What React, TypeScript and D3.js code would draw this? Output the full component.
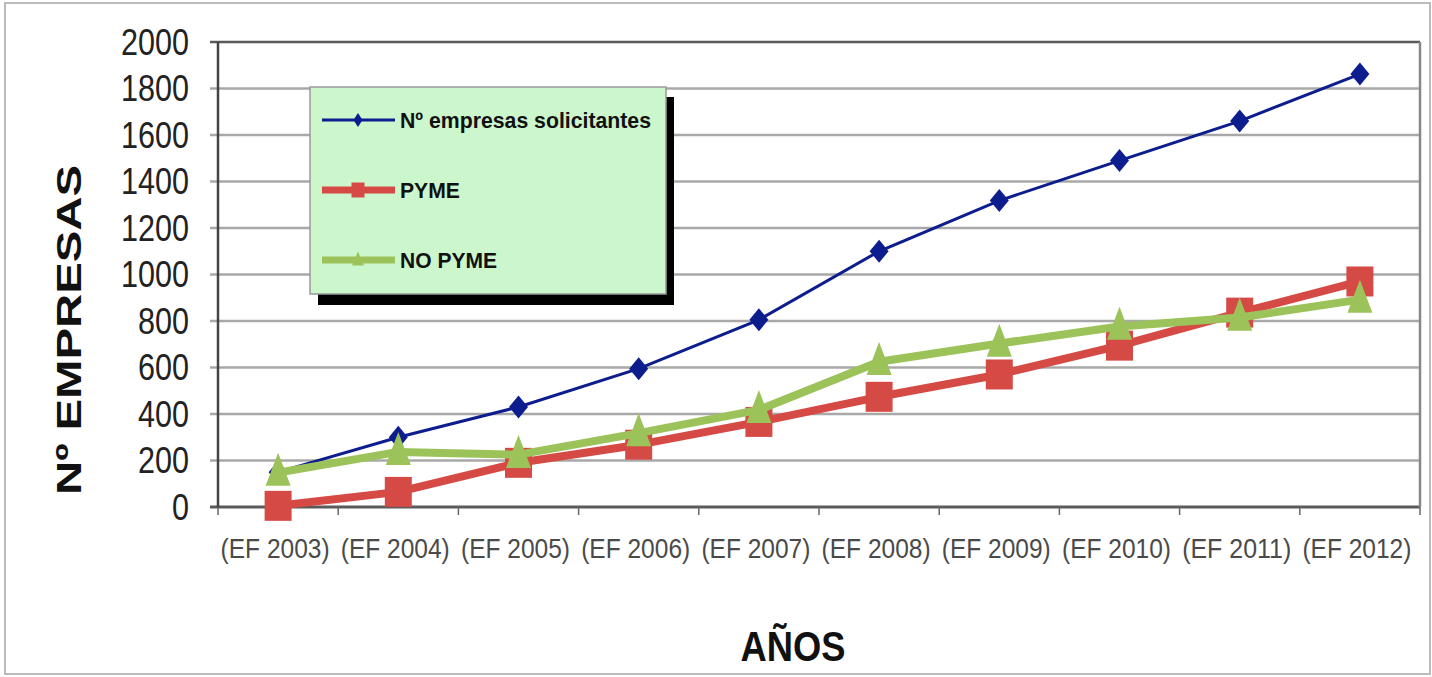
import * as d3 from "d3";

const years = ["(EF 2003)", "(EF 2004)", "(EF 2005)", "(EF 2006)", "(EF 2007)", "(EF 2008)", "(EF 2009)", "(EF 2010)", "(EF 2011)", "(EF 2012)"];
const solicitantes = [150, 300, 430, 595, 805, 1100, 1318, 1490, 1660, 1862];
const pyme = [5, 65, 190, 268, 366, 474, 570, 694, 836, 970];
const noPyme = [148, 237, 225, 318, 418, 625, 703, 776, 815, 892];
const yTicks = [0, 200, 400, 600, 800, 1000, 1200, 1400, 1600, 1800, 2000];
const legendLabels = ["Nº empresas solicitantes", "PYME", "NO PYME"];

const W = 1432;
const H = 677;
const left = 218;
const right = 1420;
const top = 42;
const bottom = 507;

const font = "'Liberation Sans', Arial, sans-serif";

const App = () => {
    const x = d3.scaleBand().domain(years).range([left, right]);
    const y = d3.scaleLinear().domain([0, 2000]).range([bottom, top]);
    const cx = (i) => x(years[i]) + x.bandwidth() / 2;

    const line = d3
        .line<number>()
        .x((_, i) => cx(i))
        .y((d) => y(d));

    const diamond = (w, h) => `M0,${-h / 2}L${w / 2},0L0,${h / 2}L${-w / 2},0Z`;
    const rect = (w, h) => `M${-w / 2},${-h / 2}h${w}v${h}h${-w}Z`;
    const tri = (w, h) => `M0,${-h * 0.6}L${w / 2},${h * 0.4}L${-w / 2},${h * 0.4}Z`;

    // each legend row: colour, stroke width, marker
    const legendStyles = [
        { color: "#0d1d8e", sw: 3, marker: <path d={diamond(9, 14)} fill="#0d1d8e" /> },
        { color: "#d64a45", sw: 7, marker: <path d={rect(13, 15)} fill="#d64a45" /> },
        { color: "#9cc35a", sw: 7, marker: <path d={tri(12, 14)} fill="#9cc35a" /> },
    ];

    return (
        <svg width={W} height={H} style={{ position: "absolute", left: 0, top: 0, background: "#fff" }}>
            <rect x={5} y={3} width={1425} height={671} fill="#fff" stroke="#bbb" strokeWidth={2} />

            {/* grid */}
            <g>
                {yTicks.map((t) => (
                    <line key={t} x1={left - 8} x2={right} y1={y(t)} y2={y(t)}
                        stroke={t === 0 || t === 2000 ? "#5a5a5a" : "#a8a8a8"} strokeWidth={t === 0 ? 3 : 2.5} />
                ))}
                <line x1={right} x2={right} y1={top} y2={bottom} stroke="#888" strokeWidth={2.5} />
                <line x1={left} x2={left} y1={top} y2={bottom + 1} stroke="#444" strokeWidth={2.5} />
                {d3.range(years.length + 1).map((i) => (
                    <line key={i} x1={left + i * x.bandwidth()} x2={left + i * x.bandwidth()}
                        y1={bottom} y2={bottom + 8} stroke="#666" strokeWidth={1.5} />
                ))}
            </g>

            {/* y tick labels */}
            <g fontFamily={font} fontSize={36} fill="#222" textAnchor="end">
                {yTicks.map((t) => (
                    <text key={t} x={189} y={y(t)} dy="0.36em"
                        textLength={String(t).length * 17} lengthAdjust="spacingAndGlyphs">{t}</text>
                ))}
            </g>

            {/* x tick labels */}
            <g fontFamily={font} fontSize={27} fill="#4a4a4a" textAnchor="middle">
                {years.map((d, i) => (
                    <text key={d} x={cx(i) - 3} y={548} dy="0.36em" textLength={109} lengthAdjust="spacingAndGlyphs">{d}</text>
                ))}
            </g>

            {/* series */}
            <path d={line(solicitantes)} fill="none" stroke="#0d1d8e" strokeWidth={3} />
            {solicitantes.map((v, i) => (
                <path key={i} d={diamond(19, 23)} transform={`translate(${cx(i)},${y(v)})`} fill="#0d1d8e" />
            ))}
            <path d={line(pyme)} fill="none" stroke="#d64a45" strokeWidth={8} strokeLinejoin="round" />
            {pyme.map((v, i) => (
                <path key={i} d={rect(27, 30)} transform={`translate(${cx(i)},${y(v)})`} fill="#d64a45" />
            ))}
            <path d={line(noPyme)} fill="none" stroke="#9cc35a" strokeWidth={8} strokeLinejoin="round" />
            {noPyme.map((v, i) => (
                <path key={i} d={tri(25, 33)} transform={`translate(${cx(i)},${y(v)})`} fill="#9cc35a" />
            ))}

            {/* legend */}
            <rect x={318} y={97} width={356} height={208} fill="#000" />
            <rect x={310} y={87} width={356} height={207} fill="#ccf7cc" stroke="#999" strokeWidth={1.5} />
            {legendLabels.map((l, i) => {
                const ly = 120 + i * 70;
                const s = legendStyles[i];
                return (
                    <g key={l} transform={`translate(0,${ly})`}>
                        <line x1={322} x2={395} y1={0} y2={0} stroke={s.color} strokeWidth={s.sw} />
                        <g transform="translate(358,0)">{s.marker}</g>
                        <text x={400} y={0} dy="0.36em" fontFamily={font} fontWeight="bold" fontSize={22} fill="#111"
                            textLength={[251, 60, 97][i]} lengthAdjust="spacingAndGlyphs">{l}</text>
                    </g>
                );
            })}

            {/* axis titles */}
            <text transform="translate(81,330) rotate(-90)" textAnchor="middle" fontFamily={font} fontWeight="bold"
                fontSize={35} fill="#111" textLength={330} lengthAdjust="spacingAndGlyphs">Nº EMPRESAS</text>
            <text x={793} y={661} textAnchor="middle" fontFamily={font} fontWeight="bold" fontSize={43} fill="#111"
                textLength={105} lengthAdjust="spacingAndGlyphs">AÑOS</text>
        </svg>
    );
};

export default App;
